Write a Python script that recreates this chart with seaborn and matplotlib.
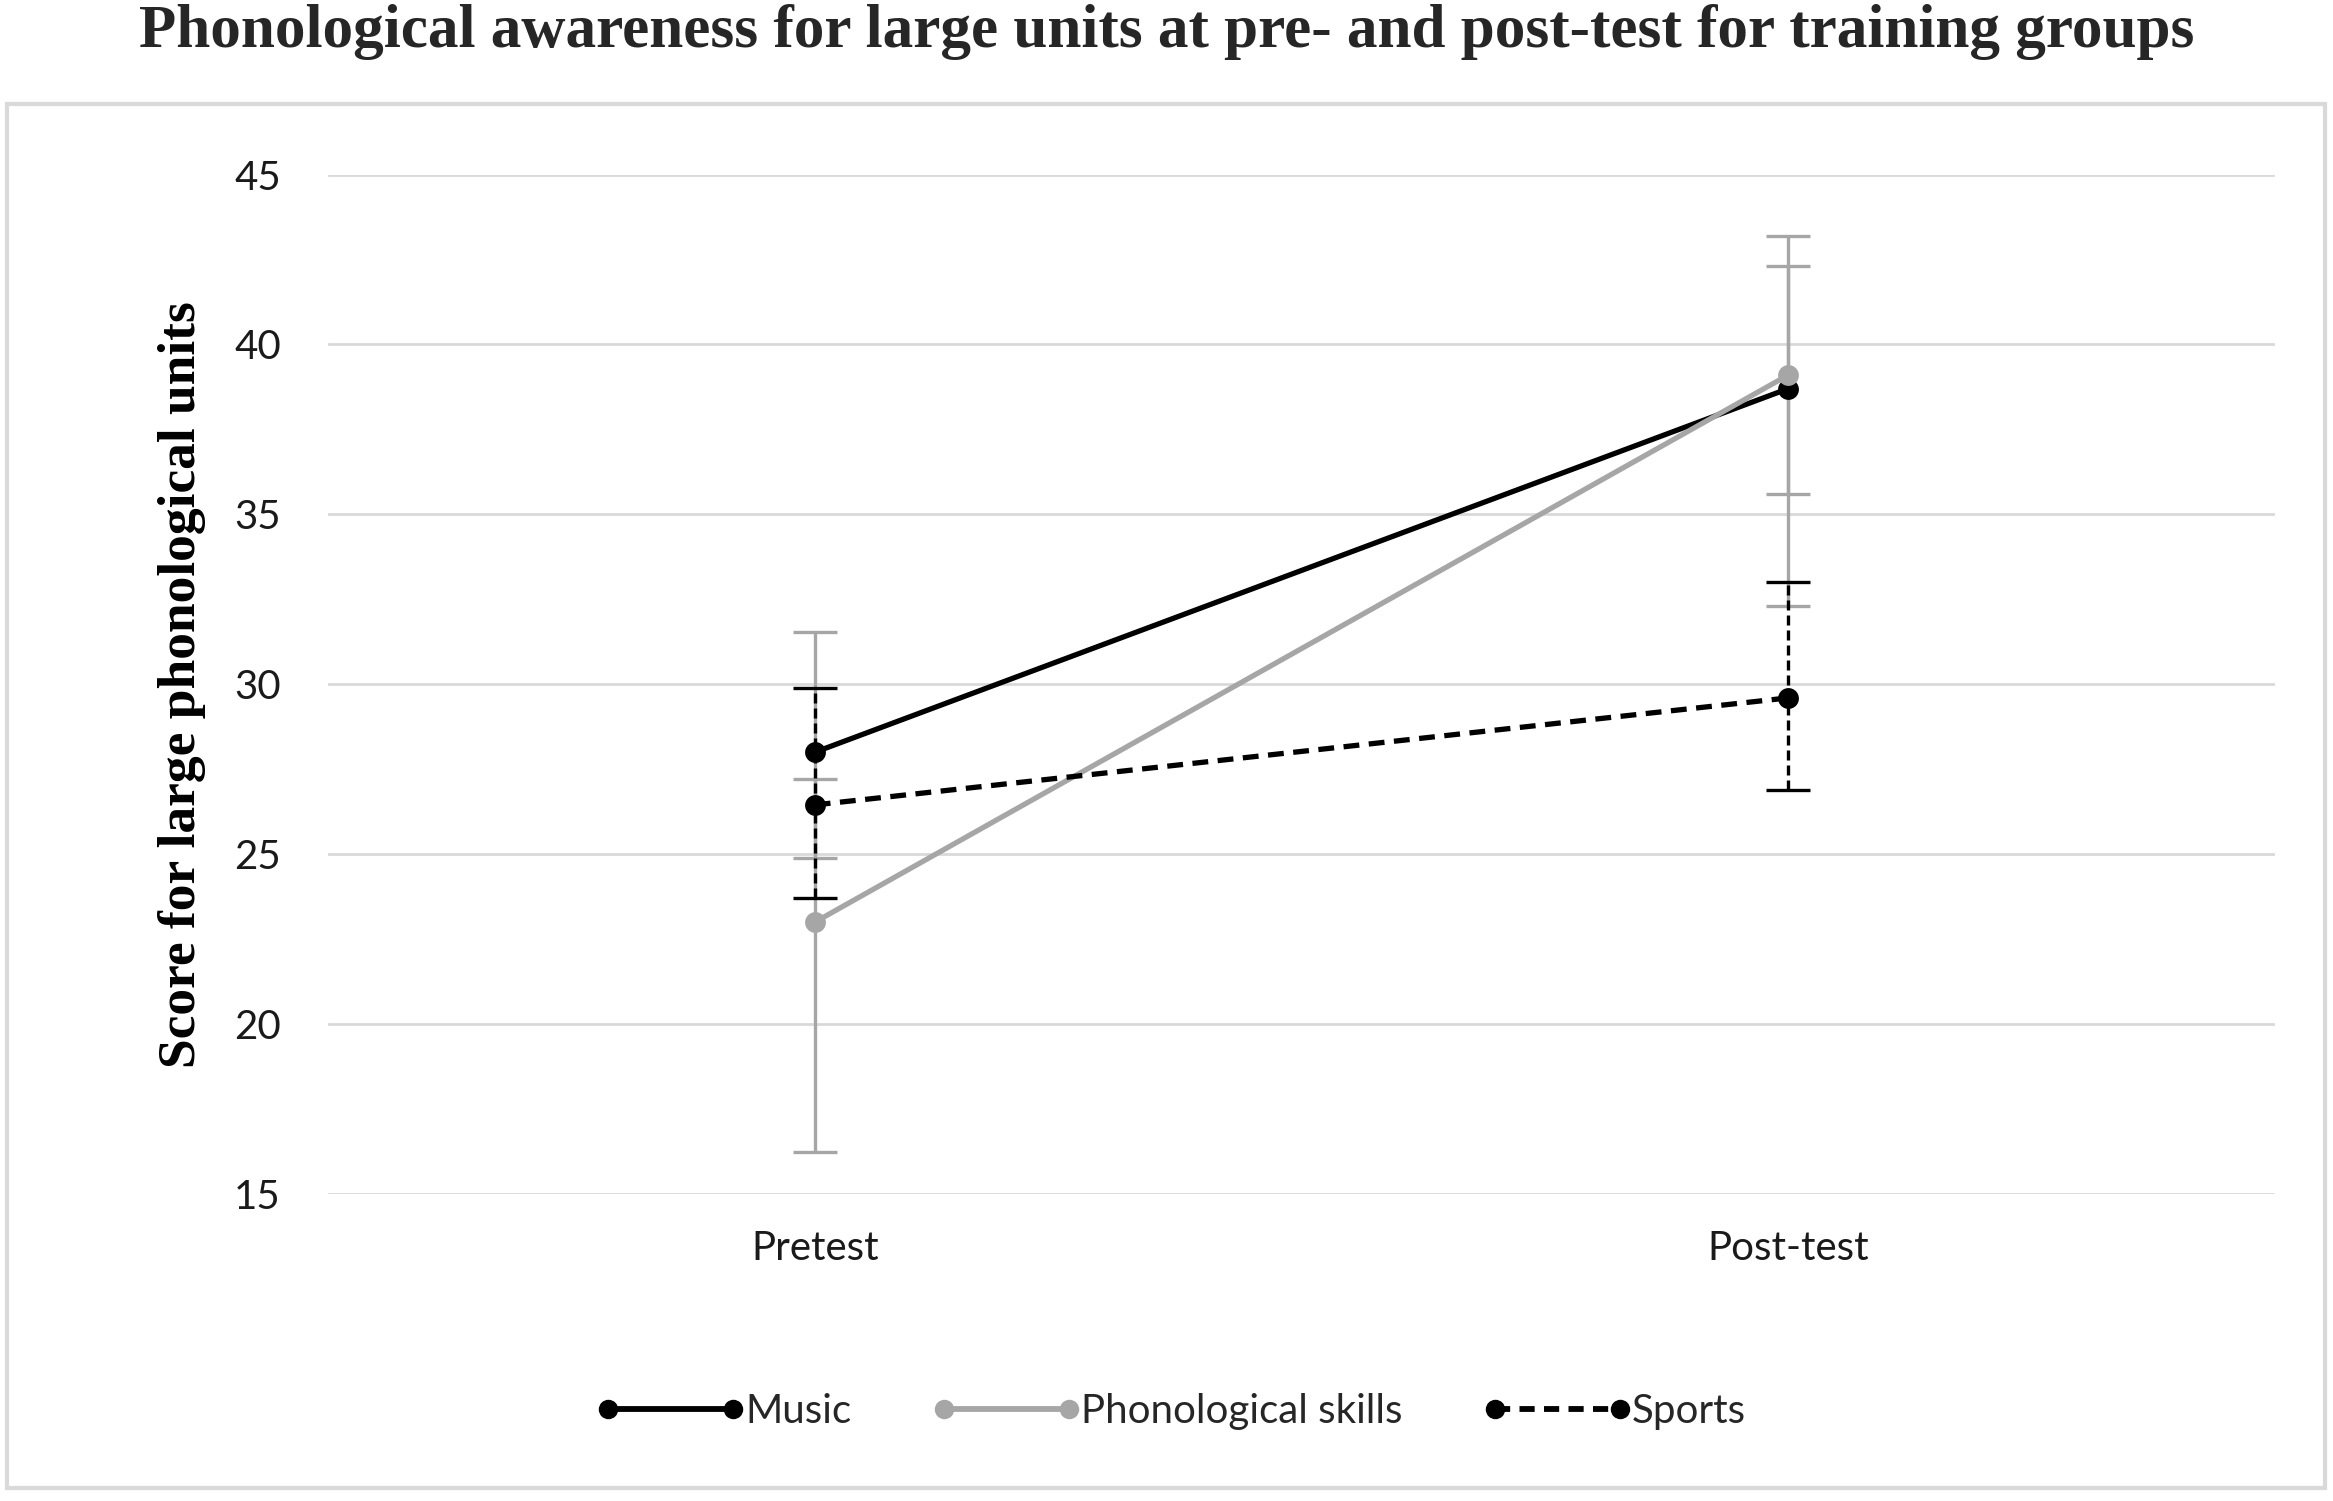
import pandas as pd
import matplotlib.pyplot as plt
import seaborn as sns
from matplotlib.lines import Line2D
from matplotlib.patches import Rectangle

# values
phases = ['Pretest', 'Post-test']
groups = ['Music', 'Phonological skills', 'Sports']
music_mean = [28.0, 38.7]
phono_mean = [23.0, 39.1]
sports_mean = [26.45, 29.6]
music_lo = [24.9, 35.6]
music_hi = [31.55, 42.3]
phono_lo = [16.25, 32.3]
phono_hi = [27.2, 43.2]
sports_lo = [23.7, 26.9]
sports_hi = [29.9, 33.0]

df = pd.DataFrame({
    'phase': phases * 3,
    'group': [g for g in groups for _ in phases],
    'score': music_mean + phono_mean + sports_mean,
    'lo': music_lo + phono_lo + sports_lo,
    'hi': music_hi + phono_hi + sports_hi,
})

sns.set_theme(style='white')
plt.rcParams['font.family'] = ['Lato', 'DejaVu Sans']

palette = {'Music': 'black', 'Phonological skills': '#A6A6A6', 'Sports': 'black'}
bar_colors = {'Music': '#A6A6A6', 'Phonological skills': '#A6A6A6', 'Sports': 'black'}

fig = plt.figure(figsize=(23.33, 15.01), dpi=100)
ax = fig.add_axes([0.1406, 0.2045, 0.8345, 0.6792])

# error bars first, so lines sit on top
pos = {p: i for i, p in enumerate(phases)}
for g in groups:
    sub = df[df['group'] == g]
    x = sub['phase'].map(pos)
    eb = ax.errorbar(x, sub['score'], yerr=[sub['score'] - sub['lo'], sub['hi'] - sub['score']],
                     fmt='none', ecolor=bar_colors[g], elinewidth=2.4, capsize=16, capthick=2.4, zorder=2)
    if g == 'Sports':
        eb[2][0].set_linestyle((0, (3, 1.5)))

sns.lineplot(data=df, x='phase', y='score', hue='group', style='group', palette=palette,
             dashes={'Music': '', 'Phonological skills': '', 'Sports': (3.0, 1.8)},
             markers={'Music': 'o', 'Phonological skills': 'o', 'Sports': 'o'},
             markersize=15, markeredgewidth=0, linewidth=3.8, ax=ax, legend=False, zorder=3)

ax.set_xlim(-0.5, 1.5)
ax.set_ylim(15, 45)
ax.set_yticks(range(15, 50, 5))
ax.set_xticks([0, 1])
ax.set_xticklabels(phases)
ax.grid(axis='y', color='#D9D9D9', linewidth=2)
ax.grid(axis='x', visible=False)
ax.set_axisbelow(True)
for s in ax.spines.values():
    s.set_visible(False)
ax.tick_params(axis='both', length=0, labelsize=29, colors='#1a1a1a')
ax.tick_params(axis='y', pad=34)
ax.tick_params(axis='x', pad=26)
ax.set_xlabel('')
ax.set_ylabel('Score for large phonological units', family='Liberation Serif',
              fontweight='bold', fontsize=38.5, color='black', labelpad=20)

handles = []
for g in groups:
    handles.append(Line2D([0], [0], color=palette[g], lw=4.2, marker='o', markersize=14,
                          markeredgewidth=0, linestyle='--' if g == 'Sports' else '-',
                          dashes=(2.6, 1.6) if g == 'Sports' else (None, None)))
fig.legend(handles, groups, loc='center', bbox_to_anchor=(0.502, 0.0593), ncol=3, frameon=False,
           numpoints=2, handlelength=3.7, handletextpad=0.0, columnspacing=2.0,
           prop={'family': 'Lato', 'size': 29})

fig.patches.append(Rectangle((0.003, 0.0087), 0.9936, 0.922, transform=fig.transFigure,
                             fill=False, edgecolor='#D9D9D9', linewidth=3))
fig.text(0.5, 0.979, 'Phonological awareness for large units at pre- and post-test for training groups',
         ha='center', va='center', family='Liberation Serif', fontweight='bold', fontsize=44)

fig.savefig('out.png', dpi=100, facecolor='white')
